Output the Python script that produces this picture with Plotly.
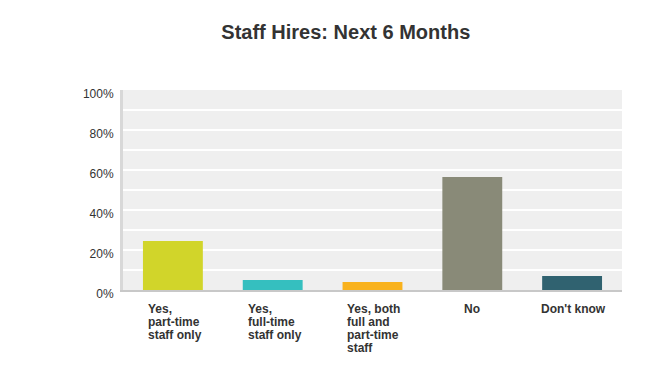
import plotly.graph_objects as go

categories = ["Yes, part-time staff only", "Yes, full-time staff only",
              "Yes, both full and part-time staff", "No", "Don't know"]
category_label_lines = [["Yes,", "part-time", "staff only"],
                        ["Yes,", "full-time", "staff only"],
                        ["Yes, both", "full and", "part-time", "staff"],
                        ["No"],
                        ["Don't know"]]
values = [24.5, 5.0, 4.0, 56.5, 7.0]
colors = ["#D1D52A", "#35BFBF", "#F9B21D", "#898A78", "#306270"]
y_tick_vals = [0, 20, 40, 60, 80, 100]
y_tick_text = ["0%", "20%", "40%", "60%", "80%", "100%"]

FONT = "Liberation Sans, Arial"
# label blocks are centred under each bar, lines left-aligned within the block
label_xshift = [-27, -27, -28, -10, -33]

fig = go.Figure(go.Bar(x=categories, y=values, marker=dict(color=colors, line=dict(width=0)),
                       hoverinfo="skip"))

for cat, lines, xs in zip(categories, category_label_lines, label_xshift):
    for i, line in enumerate(lines):
        fig.add_annotation(x=cat, y=0, xref="x", yref="paper", text="<b>" + line + "</b>",
                           showarrow=False, xanchor="left", yanchor="middle", align="left",
                           xshift=xs, yshift=-19 - 13 * i,
                           font=dict(family=FONT, size=12, color="#333333"))

fig.update_layout(
    width=650, height=378,
    margin=dict(l=123, r=28, t=90, b=88),
    paper_bgcolor="white", plot_bgcolor="#EFEFEF",
    bargap=0.4, showlegend=False,
    font=dict(family=FONT, size=11, color="#333333"),
    title=dict(text="<b>Staff Hires: Next 6 Months</b>", x=0.532, xanchor="center",
               y=0.915, yanchor="middle",
               font=dict(family=FONT, size=20, color="#333333")),
)
fig.update_xaxes(showticklabels=False, showline=True, linecolor="#C8C8C8", linewidth=2,
                 showgrid=False, ticks="")
fig.update_yaxes(range=[0, 100], tickvals=y_tick_vals, ticktext=y_tick_text,
                 showgrid=True, gridcolor="white", gridwidth=1.5,
                 minor=dict(dtick=10, tick0=0, showgrid=True, gridcolor="white", gridwidth=1.5),
                 showline=True, linecolor="#D8D8D8", linewidth=3, zeroline=False,
                 ticks="", ticklabelstandoff=4, ticklabelshift=4,
                 tickfont=dict(family=FONT, size=12, color="#333333"))

fig.write_html("out.html")
